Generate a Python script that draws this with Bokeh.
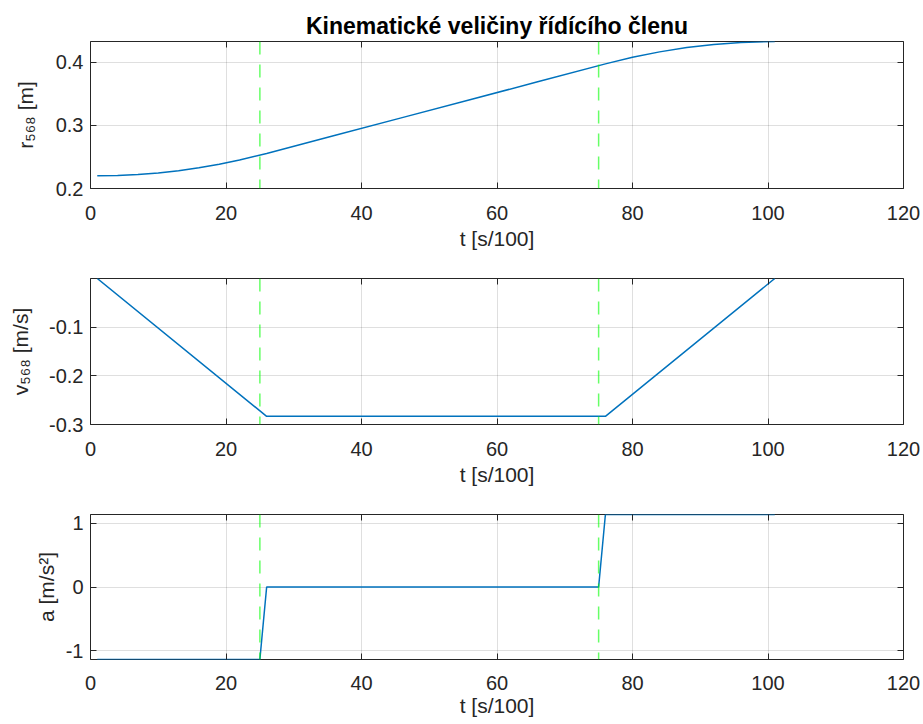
from bokeh.plotting import figure
from bokeh.models import Range1d, FixedTicker, LinearAxis, Span
from bokeh.layouts import column
from bokeh.embed import file_html
from bokeh.resources import INLINE

# ---- data ----
t_r = [1, 4, 7, 10, 13, 16, 19, 22, 26, 36, 46, 56, 66, 76, 80, 84, 88, 92, 96, 101]
r_vals = [0.2200, 0.2205, 0.2220, 0.2246, 0.2282, 0.2328, 0.2384, 0.2450, 0.2554,
          0.2837, 0.3121, 0.3404, 0.3687, 0.3971, 0.4075, 0.4161, 0.4229, 0.4279,
          0.4311, 0.4325]

t_v = [1, 26, 76, 101]
v_vals = [0.0, -0.2833, -0.2833, 0.0]

t_a = [1, 25, 26, 75, 76, 101]
a_vals = [-1.1333, -1.1333, 0.0, 0.0, 1.1333, 1.1333]

phase_bounds = [25, 75]

x_ticks = [0, 20, 40, 60, 80, 100, 120]
r_ticks = [0.2, 0.3, 0.4]
v_ticks = [-0.3, -0.2, -0.1]
a_ticks = [-1, 0, 1]

title_text = "Kinematické veličiny řídícího členu"
x_label = "t [s/100]"
r_label = "r₅₆₈ [m]"
v_label = "v₅₆₈ [m/s]"
a_label = "a [m/s²]"

FONT = "Liberation Sans"
AX = "#262626"
LINE = "#0072BD"
TICK_FS = "20px"
LABEL_FS = "21px"


def make_fig(y0, y1, yt, ylab, top, bottom, frame_h, title=None,
             tick_standoff=17, label_standoff=4, ylabel_standoff=16):
    p = figure(frame_width=813, frame_height=frame_h,
               min_border_left=90, min_border_right=20,
               min_border_top=top, min_border_bottom=bottom,
               x_range=Range1d(0, 120), y_range=Range1d(y0, y1),
               output_backend="svg", toolbar_location=None, tools="",
               background_fill_color="white", border_fill_color="white")
    p.outline_line_color = AX
    p.outline_line_width = 1
    p.outline_line_alpha = 1

    for ax, ticks in ((p.xaxis[0], x_ticks), (p.yaxis[0], yt)):
        ax.ticker = FixedTicker(ticks=ticks)
        ax.major_label_overrides = {t: f"{t:g}" for t in ticks}
        ax.major_tick_in = 6
        ax.major_tick_out = 0
        ax.minor_tick_line_color = None
        ax.major_tick_line_color = AX
        ax.axis_line_color = None
        ax.major_label_text_font = FONT
        ax.major_label_text_font_size = TICK_FS
        ax.major_label_text_color = AX
        ax.axis_label_text_font = FONT
        ax.axis_label_text_font_size = LABEL_FS
        ax.axis_label_text_color = AX
        ax.axis_label_text_font_style = "normal"
    p.xaxis[0].axis_label = x_label
    p.yaxis[0].axis_label = ylab
    p.xaxis[0].major_label_standoff = tick_standoff
    p.xaxis[0].axis_label_standoff = label_standoff
    p.yaxis[0].major_label_standoff = 7
    p.yaxis[0].axis_label_standoff = ylabel_standoff

    # box ticks on top / right (minor ticks only, so no labels)
    for place, ticks in (("above", x_ticks), ("right", yt)):
        ax = LinearAxis(ticker=FixedTicker(ticks=[], minor_ticks=ticks),
                        major_label_standoff=0,
                        axis_line_color=None,
                        major_tick_line_color=None,
                        minor_tick_in=6, minor_tick_out=0,
                        minor_tick_line_color=AX)
        p.add_layout(ax, place)

    for g, ticks in ((p.xgrid[0], x_ticks), (p.ygrid[0], yt)):
        g.grid_line_color = AX
        g.grid_line_alpha = 0.15
        g.grid_line_width = 1
        g.ticker = FixedTicker(ticks=ticks)

    if title:
        p.title.text = title
        p.title.align = "center"
        p.title.text_font = FONT
        p.title.text_font_size = "23px"
        p.title.text_font_style = "bold"
        p.title.text_color = "black"
        p.title.standoff = 6
    return p


p1 = make_fig(0.2, max(r_vals), r_ticks, r_label, 41, 70, 147, title=title_text,
              ylabel_standoff=16)
p1.line(t_r, r_vals, line_color=LINE, line_width=1.5)

p2 = make_fig(-0.3, max(v_vals), v_ticks, v_label, 20, 66, 146, ylabel_standoff=14)
p2.line(t_v, v_vals, line_color=LINE, line_width=1.5)

p3 = make_fig(min(a_vals), max(a_vals), a_ticks, a_label, 24, 65, 145,
              tick_standoff=16, label_standoff=1, ylabel_standoff=5)
p3.line(t_a, a_vals, line_color=LINE, line_width=1.5)

for p in (p1, p2, p3):
    for loc in phase_bounds:
        p.add_layout(Span(location=loc, dimension="height", line_color="#00ff00",
                          line_alpha=0.6, line_width=1.5, line_dash="13 10"))

layout = column(p1, p2, p3, spacing=0)
open("out.html", "w").write(file_html(layout, INLINE))
